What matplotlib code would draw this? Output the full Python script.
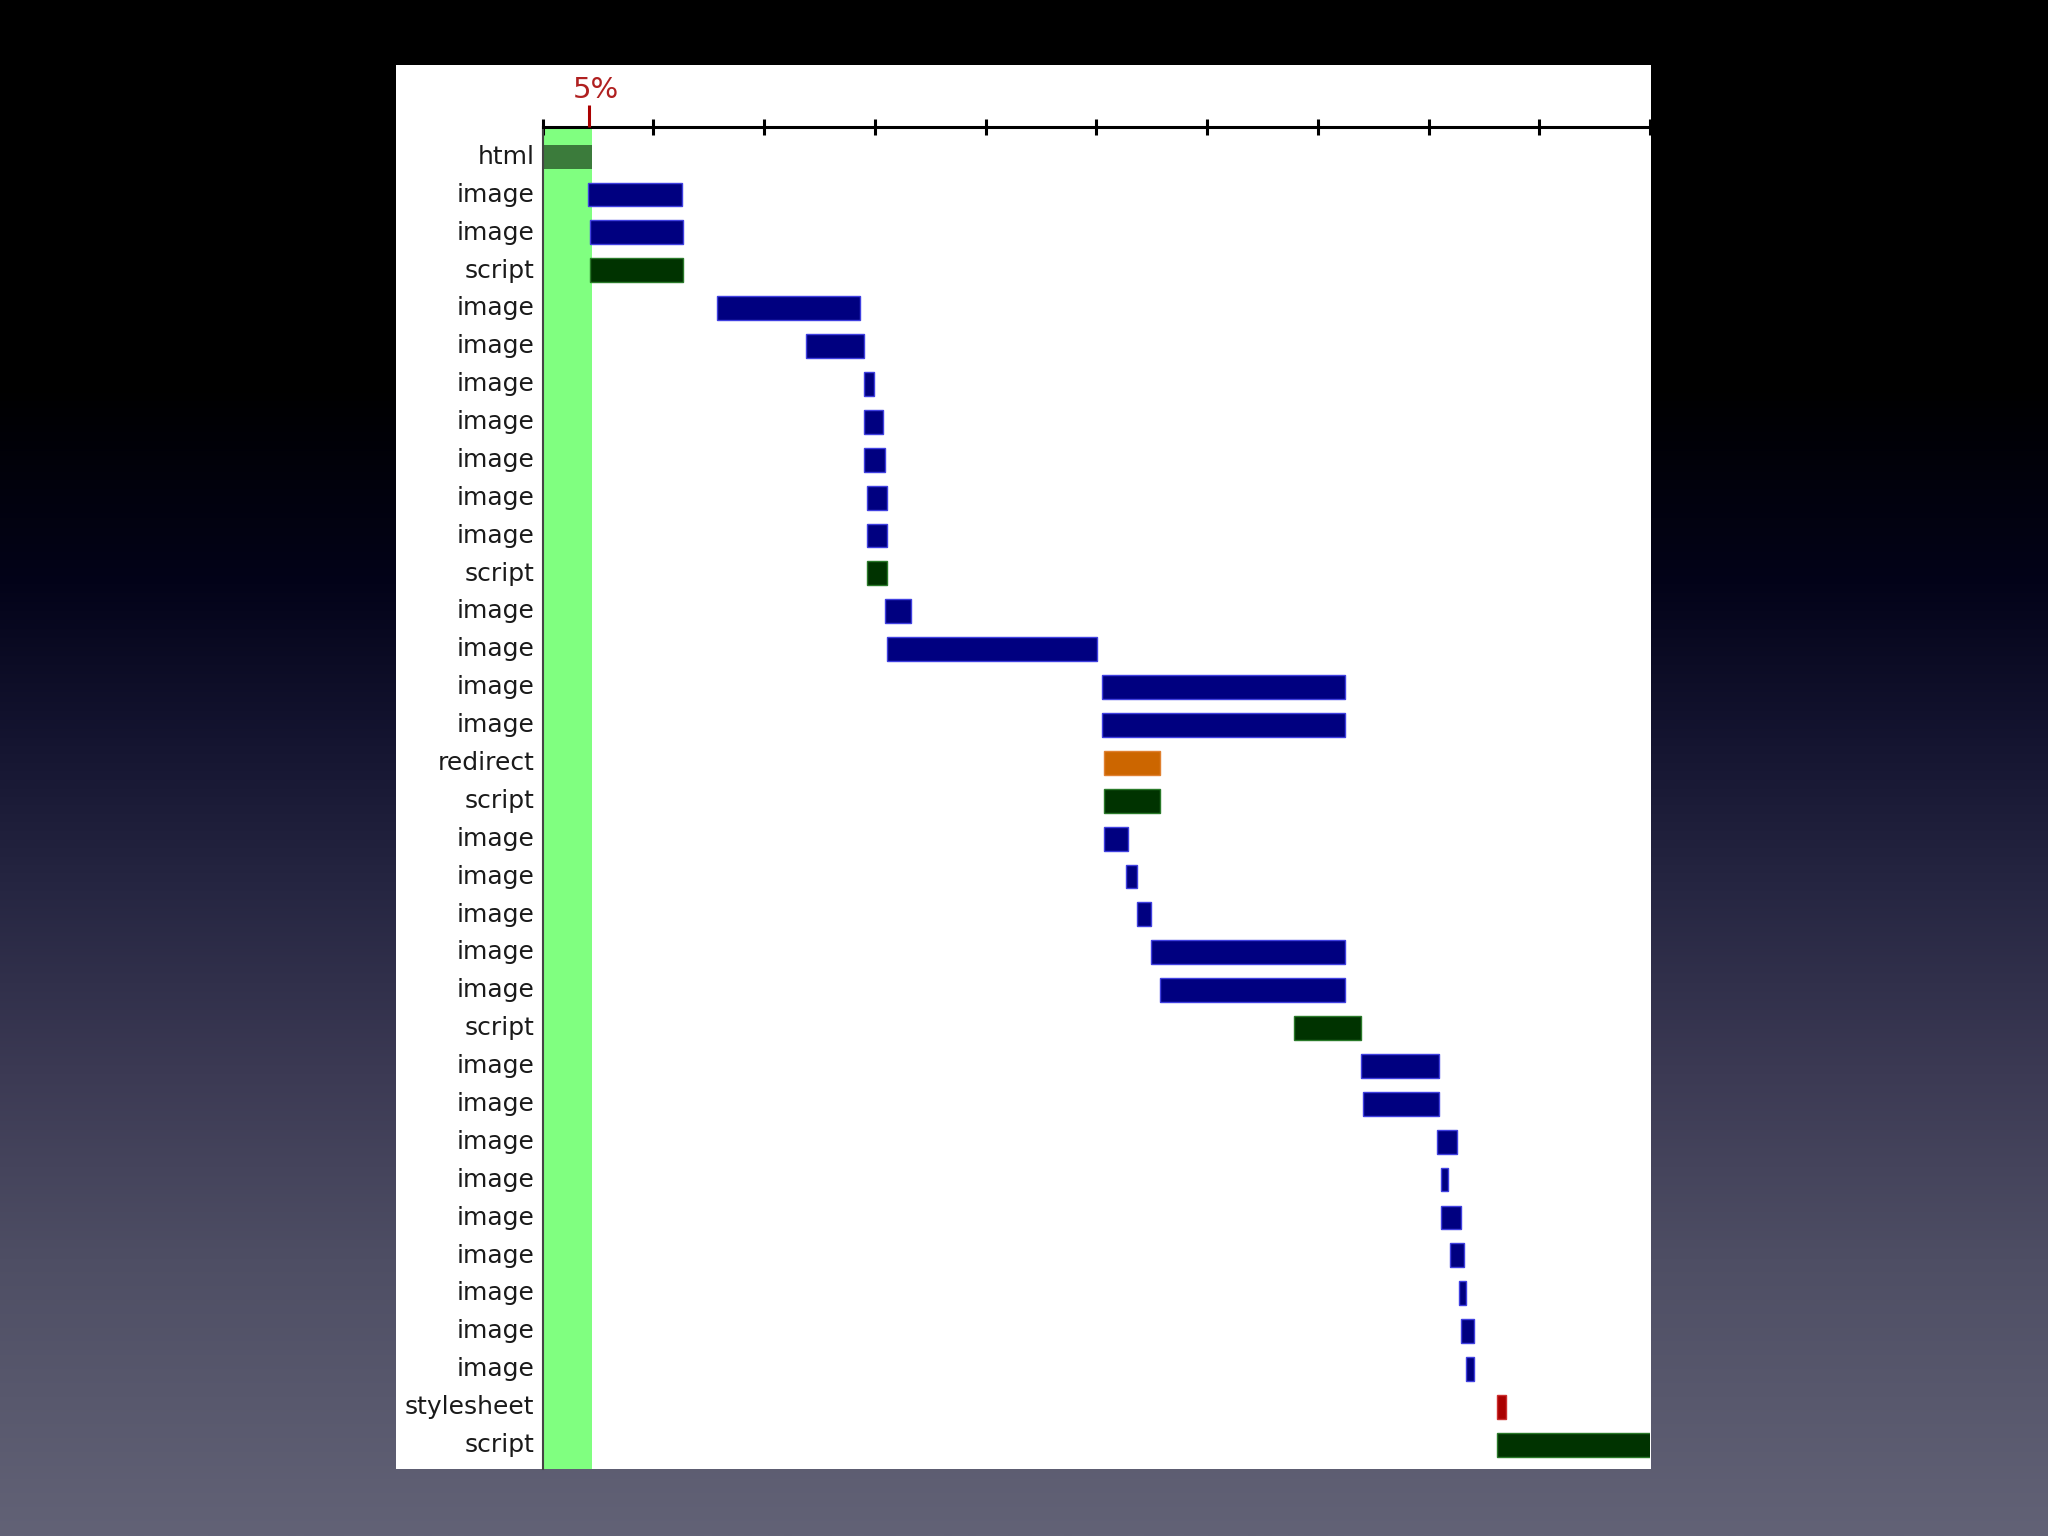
import numpy as np
import matplotlib
matplotlib.use("Agg")
import matplotlib.pyplot as plt
from matplotlib.patches import Rectangle

# waterfall of page requests, x in tick units (0..10)
kinds = ["html", "image", "image", "script", "image", "image", "image", "image",
         "image", "image", "image", "script", "image", "image", "image", "image",
         "redirect", "script", "image", "image", "image", "image", "image", "script",
         "image", "image", "image", "image", "image", "image", "image", "image",
         "image", "stylesheet", "script"]
starts = [0.0, 0.406, 0.43, 0.43, 1.578, 2.381, 2.906, 2.906,
          2.906, 2.927, 2.927, 2.927, 3.089, 3.11, 5.049, 5.049,
          5.066, 5.066, 5.066, 5.269, 5.37, 5.491, 5.574, 6.784,
          7.386, 7.407, 8.072, 8.112, 8.112, 8.193, 8.271, 8.295,
          8.334, 8.618, 8.618]
ends = [0.445, 1.256, 1.27, 1.27, 2.868, 2.906, 2.989, 3.072,
        3.089, 3.11, 3.11, 3.11, 3.328, 5.007, 7.248, 7.248,
        5.574, 5.574, 5.287, 5.37, 5.491, 7.248, 7.248, 7.386,
        8.094, 8.094, 8.256, 8.175, 8.295, 8.316, 8.338, 8.415,
        8.415, 8.699, 10.6]
ticks = list(range(11))
marker_pos = 0.416
marker_label = "5%"
band_end = 0.445

colors = {"html": "#3b7b3b", "image": "#000080", "script": "#003300",
          "redirect": "#cc6600", "stylesheet": "#aa0000"}
edges = {"html": "none", "image": "#4040e0", "script": "#2a7a2a",
         "redirect": "#e08030", "stylesheet": "#cc3030"}

W, H = 2048, 1536
fig = plt.figure(figsize=(W / 100, H / 100), dpi=100)

# slide background gradient
bg = fig.add_axes([0, 0, 1, 1], zorder=-2)
stops = [0.0, 0.25, 0.38, 0.48, 0.58, 0.70, 0.82, 1.0]
cols = np.array([[0, 0, 0], [0, 0, 0], [3, 3, 25], [20, 20, 48], [38, 38, 66],
                 [60, 58, 84], [78, 78, 100], [98, 98, 118]]) / 255.0
t = np.linspace(0, 1, 512)
grad = np.stack([np.interp(t, stops, cols[:, k]) for k in range(3)], axis=1)
bg.imshow(grad[:, None, :], aspect="auto", extent=[0, 1, 0, 1])
bg.set_axis_off()

# white panel
fig.patches.append(Rectangle((396 / W, 1 - 1469 / H), (1651 - 396) / W, (1469 - 65) / H,
                             transform=fig.transFigure, facecolor="white",
                             edgecolor="none", zorder=-1))

ax = fig.add_axes([542.7 / W, 1 - 1469 / H, (1650 - 542.7) / W, (1469 - 126.7) / H])
ax.set_facecolor("none")

n = len(kinds)
y = np.arange(n)
ax.axvspan(0, band_end, color="#80ff80", zorder=1, lw=0)
widths = [e - s for s, e in zip(starts, ends)]
ax.barh(y, widths, left=starts, height=0.63,
        color=[colors[k] for k in kinds],
        edgecolor=[edges[k] for k in kinds], linewidth=1.0, zorder=2)

ax.set_xlim(0, 10)
ax.set_ylim(34.64, -0.79)

ax.set_yticks(y - 0.06)
ax.set_yticklabels(kinds, fontsize=18, color="#1a1a1a", family="DejaVu Sans")
ax.tick_params(axis="y", length=0, pad=6)

ax.xaxis.tick_top()
ax.set_xticks(ticks)
ax.set_xticklabels([])
ax.tick_params(axis="x", direction="inout", length=12, width=2.2, color="black")

for s in ["right", "bottom"]:
    ax.spines[s].set_visible(False)
ax.spines["top"].set_linewidth(2.2)
ax.spines["top"].set_color("black")
ax.spines["left"].set_linewidth(1.5)
ax.spines["left"].set_color("#444444")

# 5% marker above the axis
ax.plot([marker_pos, marker_pos], [-1.37, -0.79], color="#aa0000", lw=2.2,
        clip_on=False, zorder=5, solid_capstyle="butt")
ax.text(marker_pos + 0.06, -1.76, marker_label, color="#b02020", fontsize=21,
        ha="center", va="center", clip_on=False)

fig.savefig("out.png", dpi=100)
